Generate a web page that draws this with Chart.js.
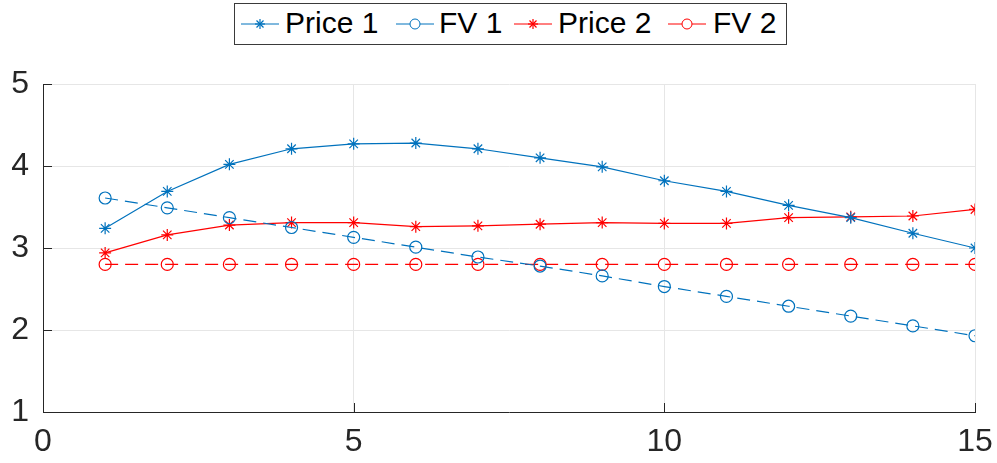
<!DOCTYPE html>
<html>
<head>
<meta charset="utf-8">
<script src="https://cdn.jsdelivr.net/npm/chart.js@4.4.1/dist/chart.umd.min.js"></script>
<style>
  html, body { margin: 0; padding: 0; background: #fff; }
  #wrap { position: relative; width: 997px; height: 463px; }
  #legenda {
    position: absolute; left: 234px; top: 3px; width: 553px; height: 42px;
    border: 1px solid #3a3a3a; background: #fff; box-sizing: border-box;
    font-family: "Liberation Sans", Arial, sans-serif; font-size: 30px; color: #000;
  }
  #legenda .icone { position: absolute; top: 10px; }
  #legenda .texto { position: absolute; top: 2px; line-height: 34px; white-space: nowrap; }
</style>
</head>
<body>
<div id="wrap">
  <canvas id="precoFV" width="997" height="463"></canvas>
  <div id="legenda"></div>
</div>
<script>
const cvsPreco = document.getElementById("precoFV");

// dados
const periodos = [1, 2, 3, 4, 5, 6, 7, 8, 9, 10, 11, 12, 13, 14, 15];
const price1 = [3.24, 3.69, 4.02, 4.21, 4.27, 4.28, 4.21, 4.10, 3.99, 3.82, 3.69, 3.52, 3.37, 3.18, 3.00];
const fv1 = [3.61, 3.49, 3.37, 3.25, 3.13, 3.01, 2.89, 2.78, 2.66, 2.53, 2.41, 2.29, 2.17, 2.05, 1.93];
const price2 = [2.94, 3.16, 3.28, 3.31, 3.31, 3.26, 3.27, 3.29, 3.31, 3.30, 3.30, 3.37, 3.38, 3.39, 3.47];
const fv2 = [2.80, 2.80, 2.80, 2.80, 2.80, 2.80, 2.80, 2.80, 2.80, 2.80, 2.80, 2.80, 2.80, 2.80, 2.80];

const xTicks = [0, 5, 10, 15];
const yTicks = [1, 2, 3, 4, 5];

const AZUL = "#0072BD";
const VERMELHO = "#FF0000";

const pares = (ys) => periodos.map((x, i) => ({ x, y: ys[i] }));

const series = [
  { label: "Price 1", data: price1, cor: AZUL, marcador: "star", tracejado: [] },
  { label: "FV 1", data: fv1, cor: AZUL, marcador: "circle", tracejado: [13, 7] },
  { label: "Price 2", data: price2, cor: VERMELHO, marcador: "star", tracejado: [] },
  { label: "FV 2", data: fv2, cor: VERMELHO, marcador: "circle", tracejado: [13, 7] },
];

// posições (relativas à caixa) de cada ícone e texto da legenda
const legIcone = [6, 161, 279, 433];
const legTexto = [50, 204, 323, 478];

// legenda estilo matlab (linha + marcador) em html
const legenda = document.getElementById("legenda");
series.forEach((s, i) => {
  const marca = s.marcador === "circle"
    ? `<circle cx="19" cy="10" r="5" fill="#fff" stroke="${s.cor}" stroke-width="1"/>`
    : `<g stroke="${s.cor}" stroke-width="1.2">
         <line x1="19" y1="5" x2="19" y2="15"/><line x1="14" y1="10" x2="24" y2="10"/>
         <line x1="15.5" y1="6.5" x2="22.5" y2="13.5"/><line x1="22.5" y1="6.5" x2="15.5" y2="13.5"/></g>`;
  legenda.insertAdjacentHTML("beforeend",
    `<svg class="icone" style="left:${legIcone[i]}px" width="38" height="20"><line x1="0" y1="10" x2="38" y2="10" stroke="${s.cor}" stroke-width="1"/>${marca}</svg>` +
    `<span class="texto" style="left:${legTexto[i]}px">${s.label}</span>`);
});

// marcas de escala para dentro, como no matlab
const ticksInternos = {
  id: "ticksInternos",
  afterDraw(chart) {
    const { ctx, chartArea: a, scales: { x, y } } = chart;
    ctx.save();
    ctx.strokeStyle = "#262626";
    ctx.lineWidth = 1;
    ctx.beginPath();
    xTicks.forEach((v) => {
      const px = Math.round(x.getPixelForValue(v)) + 0.5;
      ctx.moveTo(px, a.bottom);
      ctx.lineTo(px, a.bottom - 9);
    });
    yTicks.forEach((v) => {
      const py = Math.round(y.getPixelForValue(v)) + 0.5;
      ctx.moveTo(a.left, py);
      ctx.lineTo(a.left + 9, py);
    });
    ctx.stroke();
    ctx.restore();
  },
};

const fonteEixo = { family: "'Liberation Sans', Arial, sans-serif", size: 32 };

new Chart(cvsPreco, {
  type: "line",
  plugins: [ticksInternos],
  data: {
    datasets: series.map((s) => ({
      label: s.label,
      data: pares(s.data),
      borderColor: s.cor,
      backgroundColor: "#ffffff",
      borderWidth: 1.2,
      borderDash: s.tracejado,
      pointStyle: s.marcador,
      pointRadius: 6,
      pointBorderWidth: 1.2,
      pointBorderColor: s.cor,
      pointBackgroundColor: s.marcador === "circle" ? "rgba(0,0,0,0)" : s.cor,
      tension: 0,
      fill: false,
    })),
  },
  options: {
    responsive: false,
    animation: false,
    layout: { padding: { top: 84, right: 22, left: 0, bottom: 0 } },
    plugins: {
      legend: { display: false },
      tooltip: { enabled: false },
    },
    scales: {
      x: {
        type: "linear",
        min: 0,
        max: 15,
        afterBuildTicks: (scale) => { scale.ticks = xTicks.map((v) => ({ value: v })); },
        afterFit: (scale) => { scale.height = 51; scale.paddingLeft = 0; scale.paddingRight = 0; },
        ticks: { color: "#262626", font: fonteEixo, padding: 11, maxRotation: 0 },
        grid: { color: "#e6e6e6", drawTicks: false },
        border: { color: "#262626", width: 1 },
      },
      y: {
        type: "linear",
        min: 1,
        max: 5,
        afterBuildTicks: (scale) => { scale.ticks = yTicks.map((v) => ({ value: v })); },
        afterFit: (scale) => { scale.width = 43; scale.paddingTop = 0; scale.paddingBottom = 0; },
        ticks: { color: "#262626", font: fonteEixo, padding: 14 },
        grid: { color: "#e6e6e6", drawTicks: false },
        border: { color: "#262626", width: 1 },
      },
    },
  },
});
</script>
</body>
</html>
